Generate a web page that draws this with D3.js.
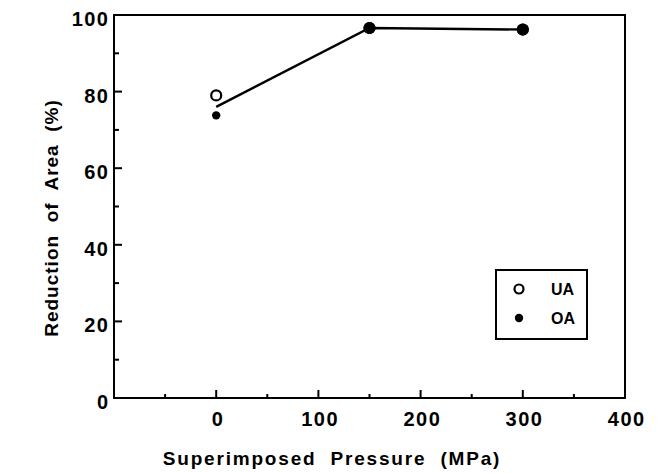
<!DOCTYPE html>
<html><head><meta charset="utf-8">
<script src="https://cdn.jsdelivr.net/npm/d3@7"></script>
<style>
body{margin:0;background:#fff;}
text{font-family:"Liberation Sans",Arial,sans-serif;font-weight:bold;fill:#000;}
</style></head>
<body><svg id="c" width="659" height="474"></svg>
<script>
const pressures = [0, 150, 300];
const uaValues = [79, 96.6, 96.2];
const oaValues = [73.8, 96.6, 96.2];
const trendValues = [76, 96.6, 96.2];
const xTicks = [0, 100, 200, 300, 400];
const yTicks = [0, 20, 40, 60, 80, 100];
const legendLabels = ["UA", "OA"];

const svg = d3.select("#c");
const L = 114, R = 625, T = 15, B = 398;
const x = d3.scaleLinear().domain([-100, 400]).range([L, R]);
const y = d3.scaleLinear().domain([0, 100]).range([B, T]);

// frame
svg.append("rect").attr("x", L).attr("y", T).attr("width", R - L).attr("height", B - T)
  .attr("fill", "none").attr("stroke", "#000").attr("stroke-width", 2);

// x ticks (inward)
const xMinor = d3.range(-50, 400, 50);
svg.append("g").selectAll("line").data(xMinor).join("line")
  .attr("x1", d => x(d)).attr("x2", d => x(d))
  .attr("y1", B).attr("y2", d => B - (d % 100 === 0 ? 8 : 4))
  .attr("stroke", "#000").attr("stroke-width", 2);
const lsTick = 1.5;
svg.append("g").selectAll("text").data(xTicks).join("text")
  .attr("x", d => x(d) + 1 + lsTick / 2).attr("y", 426).attr("text-anchor", "middle")
  .attr("font-size", 20).attr("letter-spacing", lsTick).text(d => d);

// y ticks (inward)
const yMinor = d3.range(10, 100, 10);
svg.append("g").selectAll("line").data(yMinor).join("line")
  .attr("x1", L).attr("x2", d => L + (d % 20 === 0 ? 8 : 5))
  .attr("y1", d => y(d)).attr("y2", d => y(d))
  .attr("stroke", "#000").attr("stroke-width", 2);
svg.append("g").selectAll("text").data(yTicks).join("text")
  .attr("x", 108 + lsTick).attr("y", d => y(d) + 11).attr("text-anchor", "end")
  .attr("font-size", 20).attr("letter-spacing", lsTick).text(d => d);

// axis titles
svg.append("text").attr("x", 332).attr("y", 465).attr("text-anchor", "middle")
  .attr("font-size", 19).attr("letter-spacing", 1.8).attr("xml:space", "preserve")
  .text("Superimposed  Pressure  (MPa)");
svg.append("text").attr("transform", "translate(58,218) rotate(-90)")
  .attr("text-anchor", "middle").attr("font-size", 19).attr("letter-spacing", 1.0)
  .attr("xml:space", "preserve").text("Reduction  of  Area  (%)");

// trend line
const line = d3.line().x((d, i) => x(pressures[i])).y(d => y(d));
svg.append("path").datum(trendValues).attr("d", line)
  .attr("fill", "none").attr("stroke", "#000").attr("stroke-width", 2.4);

// UA (open)
svg.append("g").selectAll("circle").data(uaValues).join("circle")
  .attr("cx", (d, i) => x(pressures[i])).attr("cy", d => y(d)).attr("r", 5)
  .attr("fill", "#fff").attr("stroke", "#000").attr("stroke-width", 2.2);
// OA (filled)
svg.append("g").selectAll("circle").data(oaValues).join("circle")
  .attr("cx", (d, i) => x(pressures[i])).attr("cy", d => y(d)).attr("r", (d, i) => i === 0 ? 4.2 : 6)
  .attr("fill", "#000");

// legend
svg.append("rect").attr("x", 496).attr("y", 270).attr("width", 91).attr("height", 69)
  .attr("fill", "#fff").attr("stroke", "#000").attr("stroke-width", 2);
svg.append("circle").attr("cx", 519).attr("cy", 289).attr("r", 4.5)
  .attr("fill", "#fff").attr("stroke", "#000").attr("stroke-width", 2.2);
svg.append("circle").attr("cx", 519).attr("cy", 318).attr("r", 4.2).attr("fill", "#000");
svg.append("g").selectAll("text").data(legendLabels).join("text")
  .attr("x", 551).attr("y", (d, i) => 295 + i * 29).attr("font-size", 16).text(d => d);
</script></body></html>
